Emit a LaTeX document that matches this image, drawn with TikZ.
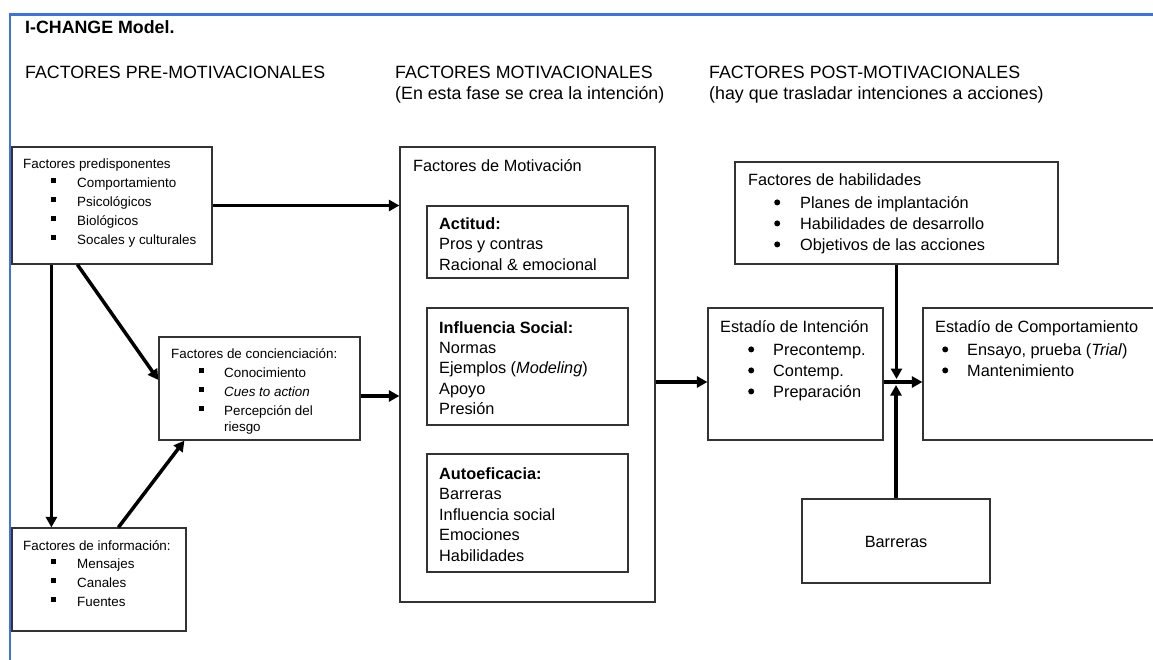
\documentclass[tikz,border=0pt]{standalone}
\usepackage{fontspec}
\setmainfont{Liberation Sans}
\usetikzlibrary{arrows.meta}
\definecolor{framebl}{HTML}{4070E8}
\definecolor{boxline}{HTML}{333333}
\newcommand\fsm{\fontsize{13.4pt}{16pt}\selectfont}
\newcommand\fbd{\fontsize{16.3pt}{20pt}\selectfont}
\newcommand\fhd{\fontsize{17.8pt}{21pt}\selectfont}
% square and round list bullets
\newcommand\sqb{\rule[4pt]{4.8pt}{4.8pt}}
\newcommand\rdb{\tikz[baseline=0pt,x=1pt,y=1pt]\fill (3pt,5.6pt) circle (3pt);}
\begin{document}
\begin{tikzpicture}[x=1pt,y=-1pt,
  box/.style={draw=boxline,line width=1.2pt,inner sep=0pt,fill=white},
  sm/.style={anchor=base west,inner sep=0pt,font=\fsm},
  bd/.style={anchor=base west,inner sep=0pt,font=\fbd},
  hd/.style={anchor=base west,inner sep=0pt,font=\fhd},
  arr/.style={line width=3.5pt,-{Triangle[length=10.5pt,width=11pt]}}]
\useasboundingbox (0,0) rectangle (1153,659);
\clip (0,0) rectangle (1153,659);

% page frame
\draw[framebl,line width=2.6pt] (10,660) -- (10,14.5) -- (1154,14.5);

% headings
\node[hd,font=\fhd\bfseries] (title) at (25,33) {I-CHANGE Model.};
\node[hd] (h1) at (25,78) {FACTORES PRE-MOTIVACIONALES};
\node[hd] (h2) at (395,78) {FACTORES MOTIVACIONALES};
\node[hd] (h2b) at (395,99) {(En esta fase se crea la intención)};
\node[hd] (h3) at (709,78) {FACTORES POST-MOTIVACIONALES};
\node[hd] (h3b) at (709,99) {(hay que trasladar intenciones a acciones)};

% boxes
\node[box,minimum width=200pt,minimum height=117pt] (pred) at (112,205.5) {};
\node[box,minimum width=201pt,minimum height=103pt] (con) at (259.5,388.5) {};
\node[box,minimum width=174pt,minimum height=103pt] (info) at (99,579.5) {};
\node[box,minimum width=255pt,minimum height=455pt] (mot) at (527.5,374.5) {};
\node[box,minimum width=201pt,minimum height=72pt] (act) at (527.5,242) {};
\node[box,minimum width=201pt,minimum height=117pt] (inf) at (527.5,366.5) {};
\node[box,minimum width=201pt,minimum height=118pt] (auto) at (527.5,513) {};
\node[box,minimum width=323pt,minimum height=102pt] (hab) at (896.5,213) {};
\node[box,minimum width=175pt,minimum height=132pt] (int) at (795.5,374) {};
\node[box,minimum width=242pt,minimum height=132pt] (comp) at (1044,374) {};
\node[box,minimum width=188pt,minimum height=84pt] (bar) at (896,541) {};

% pre-motivational texts
\node[sm] (pdt) at (23,168) {Factores predisponentes};
\foreach \t [count=\i] in {Comportamiento,Psicológicos,Biológicos,Socales y culturales}
  \node[sm] (pd\i) at (51,{168+19*\i}) {\makebox[26pt][l]{\sqb}\t};
\node[sm] (cot) at (171,358) {Factores de concienciación:};
\foreach \t [count=\i] in {Conocimiento,\textit{Cues to action},Percepción del}
  \node[sm] (co\i) at (199,{358+19*\i}) {\makebox[25pt][l]{\sqb}\t};
\node[sm] (co4) at (224,431) {riesgo};
\node[sm] (ift) at (23,550) {Factores de información:};
\foreach \t [count=\i] in {Mensajes,Canales,Fuentes}
  \node[sm] (if\i) at (51,{549+19*\i}) {\makebox[26pt][l]{\sqb}\t};

% motivational texts
\node[bd] (mott) at (413,171) {Factores de Motivación};
\foreach \t [count=\i from 0] in {\textbf{Actitud:},Pros y contras,Racional \& emocional}
  \node[bd] (ac\i) at (439,{229+20.5*\i}) {\t};
\foreach \t [count=\i from 0] in {\textbf{Influencia Social:},Normas,Ejemplos (\textit{Modeling}),Apoyo,Presión}
  \node[bd] (is\i) at (439,{333+20.4*\i}) {\t};
\foreach \t [count=\i from 0] in {\textbf{Autoeficacia:},Barreras,Influencia social,Emociones,Habilidades}
  \node[bd] (ae\i) at (439,{479+20.5*\i}) {\t};

% post-motivational texts
\node[bd] (habt) at (748,185) {Factores de habilidades};
\foreach \t [count=\i] in {Planes de implantación,Habilidades de desarrollo,Objetivos de las acciones}
  \node[bd] (hb\i) at (774,{187+21*\i}) {\makebox[26pt][l]{\rdb}\t};
\node[bd] (intt) at (720,332) {Estadío de Intención};
\foreach \t [count=\i] in {Precontemp.,Contemp.,Preparación}
  \node[bd] (in\i) at (748,{334+21*\i}) {\makebox[25pt][l]{\rdb}\t};
\node[bd] (compt) at (935,332) {Estadío de Comportamiento};
\foreach \t [count=\i] in {{Ensayo, prueba (\textit{Trial})},Mantenimiento}
  \node[bd] (cm\i) at (942,{334+21*\i}) {\makebox[25pt][l]{\rdb}\t};
\node[anchor=base,inner sep=0pt,font=\fbd] (bart) at (bar.center |- 0,547) {Barreras};

% connectors
\coordinate (yb) at (0,396);
\coordinate (yc) at (0,380);
\coordinate (yd) at (0,382);
\coordinate (xdn) at (0,379);
\coordinate (xup) at (0,385);
\draw[arr] (pred.east) -- (mot.west |- pred.east);
\draw[arr] (con.east |- yb) -- (mot.west |- yb);
\draw[arr] ([xshift=40pt]pred.south west) -- ([xshift=40pt]info.north west);
\draw[arr] ([xshift=66pt]pred.south west) -- (con.west |- yc);
\draw[arr] ([xshift=107pt]info.north west) -- ([xshift=26pt]con.south west);
\draw[arr] (mot.east |- yd) -- (int.west |- yd);
\draw[arr] (int.east |- yd) -- (comp.west |- yd);
\draw[arr] (hab.south) -- (hab.south |- xdn);
\draw[arr] (bar.north) -- (bar.north |- xup);
\end{tikzpicture}
\end{document}
